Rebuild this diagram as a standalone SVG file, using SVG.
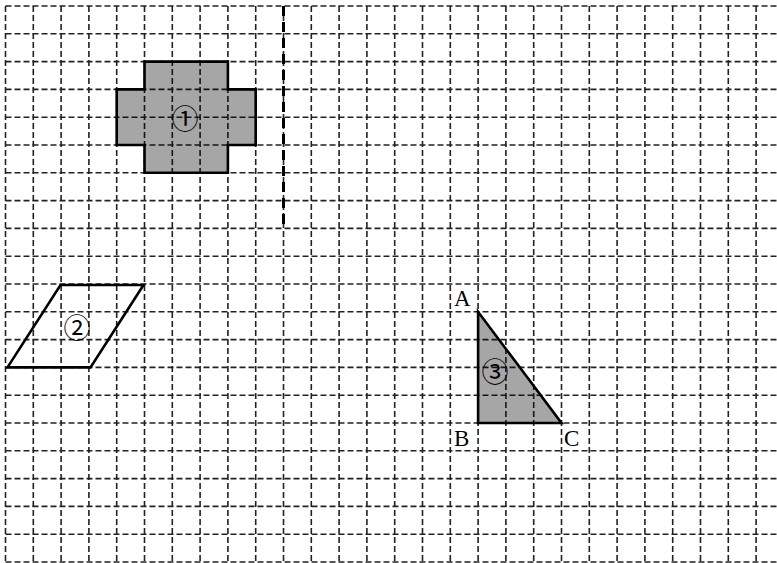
<svg xmlns="http://www.w3.org/2000/svg" width="777" height="563" viewBox="0 0 777 563">
<style>
.grid{fill:none;stroke:#222;stroke-width:1.6;stroke-dasharray:6 3}
.shape{stroke:#000;stroke-width:2.6;stroke-linejoin:miter}
.filled{fill:#000;fill-opacity:0.35}
.num{font-family:"Noto Sans CJK SC","DejaVu Sans",sans-serif;font-size:27px;text-anchor:middle;dominant-baseline:central;fill:#000}
.lbl{font-family:"Liberation Serif",serif;font-size:23px;fill:#000}
</style>
<rect width="777" height="563" fill="#fff"/>
<g id="grid" class="grid">
<path d="M5.5 6H777M5.5 33.8H777M5.5 61.6H777M5.5 89.4H777M5.5 117.2H777M5.5 145H777M5.5 172.8H777M5.5 200.6H777M5.5 228.4H777M5.5 256.2H777M5.5 284H777M5.5 311.8H777M5.5 339.6H777M5.5 367.4H777M5.5 395.2H777M5.5 423H777M5.5 450.8H777M5.5 478.6H777M5.5 506.4H777M5.5 534.2H777M5.5 562H777"/>
<path d="M5.5 6V563M33.3 6V563M61.1 6V563M88.9 6V563M116.7 6V563M144.5 6V563M172.3 6V563M200.1 6V563M227.9 6V563M255.7 6V563M283.5 6V563M311.3 6V563M339.1 6V563M366.9 6V563M394.7 6V563M422.5 6V563M450.3 6V563M478.1 6V563M505.9 6V563M533.7 6V563M561.5 6V563M589.3 6V563M617.1 6V563M644.9 6V563M672.7 6V563M700.5 6V563M728.3 6V563M756.1 6V563"/>
</g>
<g id="connectors">
<line x1="283.5" y1="6" x2="283.5" y2="225" stroke="#000" stroke-width="3" stroke-dasharray="10 6"/>
</g>
<g id="shape1">
<polygon class="shape filled" points="144.5,61.6 227.9,61.6 227.9,89.4 255.7,89.4 255.7,145 227.9,145 227.9,172.8 144.5,172.8 144.5,145 116.7,145 116.7,89.4 144.5,89.4"/>
<text class="num" x="185" y="117">①</text>
</g>
<g id="shape2">
<polygon class="shape" fill="none" points="60.5,285 143.5,285 90.5,367.4 7.5,367.4"/>
<text class="num" x="77" y="326">②</text>
</g>
<g id="shape3">
<polygon class="shape filled" points="478.1,311.8 478.1,423 561.5,423"/>
<text class="num" x="495" y="370">③</text>
<text class="lbl" x="454" y="306">A</text>
<text class="lbl" x="454" y="446">B</text>
<text class="lbl" x="564" y="446">C</text>
</g>
</svg>
